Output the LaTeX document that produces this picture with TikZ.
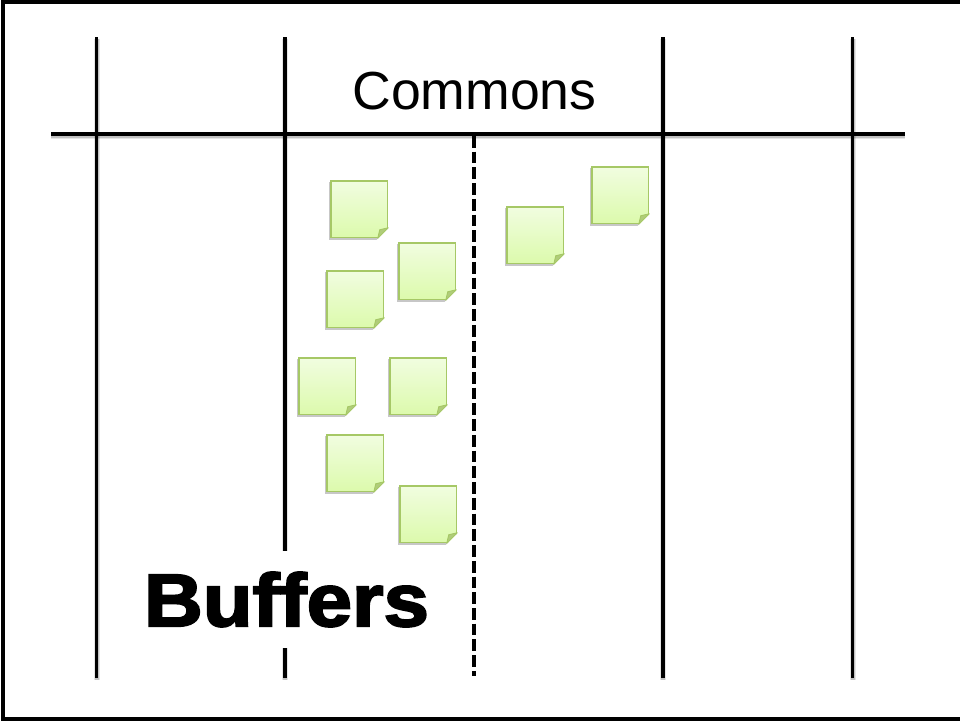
\documentclass[tikz,border=0pt]{standalone}
\usepackage{fontspec}
\setmainfont{Liberation Sans}
\usetikzlibrary{calc}
\definecolor{noteline}{HTML}{A6C866}
\definecolor{notetop}{HTML}{F1FDE0}
\definecolor{notebot}{HTML}{DCFAAC}
\definecolor{foldc}{HTML}{B0CC7A}
\tikzset{
  x=0.75pt,y=-0.75pt,
  softline/.style={black,line width=2.9pt,
    preaction={draw=black,draw opacity=.10,line width=4.4pt,transform canvas={yshift=-1.2pt,xshift=.2pt}},
    preaction={draw=black,draw opacity=.15,line width=3.3pt,transform canvas={yshift=-1.2pt,xshift=.2pt}}},
  softrule/.style={softline,line width=2.3pt},
  dashline/.style={black,line width=2.9pt,dash pattern=on 8.8pt off 3pt},
  notebox/.style={draw=noteline,line width=1.3pt,minimum size=42.4pt,inner sep=0pt,anchor=north west,
    top color=notetop,bottom color=notebot,
    preaction={draw=black,draw opacity=.22,line width=1.5pt,fill=none,transform canvas={yshift=-1.3pt,xshift=-.3pt}}},
  notecut/.style={fill=white,draw=none},
  notefold/.style={fill=foldc,draw=noteline,line width=.7pt,line join=round},
  plainlabel/.style={font=\fontsize{40.2}{48}\selectfont,inner sep=0pt},
  boldlabel/.style={font=\fontsize{56}{64}\selectfont\bfseries\addfontfeature{FakeBold=2.6},draw=none,fill=white,inner xsep=5pt,inner ysep=16pt,xscale=1.09,
    text=black}
}
\newcommand{\stickynote}[3]{%
  \node[notebox] (#1) at (#2,#3) {};
  \fill[notecut] ($(#1.south east)+(-12,2.2)$) -- ($(#1.south east)+(2.2,2.2)$) -- ($(#1.south east)+(2.2,-12)$) -- cycle;
  \draw[notefold] ($(#1.south east)+(-10.5,0)$) -- ($(#1.south east)+(0,-10.5)$) -- ($(#1.south east)+(-8.5,-8.5)$) -- cycle;
}
\begin{document}
\begin{tikzpicture}
\useasboundingbox (0,0) rectangle (960,722);
\fill[white] (0,0) rectangle (960,722);
\draw[black,line width=2.6pt] (3,2) rectangle (962,719);
\coordinate (a1) at (96.5,37);  \coordinate (a2) at (96.5,678);
\coordinate (b1) at (285,37); \coordinate (b2) at (285,678);
\coordinate (c1) at (663,37); \coordinate (c2) at (663,678);
\coordinate (d1) at (852.5,37); \coordinate (d2) at (852.5,678);
\coordinate (h1) at (51,134); \coordinate (h2) at (905,134);
\coordinate (m1) at (474,136); \coordinate (m2) at (474,676);
\draw[softline] (a1) -- (a2);
\draw[softline] (b1) -- (b2);
\draw[softline] (c1) -- (c2);
\draw[softline] (d1) -- (d2);
\draw[softrule] (h1) -- (h2);
\draw[dashline] (m1) -- (m2);
\stickynote{n1}{330}{180}
\stickynote{n2}{398}{242}
\stickynote{n3}{326}{270}
\stickynote{n4}{298}{357}
\stickynote{n5}{389}{357}
\stickynote{n6}{326}{434}
\stickynote{n7}{399}{485}
\stickynote{n8}{506}{206}
\stickynote{n9}{591}{166}
\node[plainlabel] (commons) at (474.5,91) {Commons};
\node[boldlabel] (buffers) at (286.5,599.5) {Buffers};
\end{tikzpicture}
\end{document}
